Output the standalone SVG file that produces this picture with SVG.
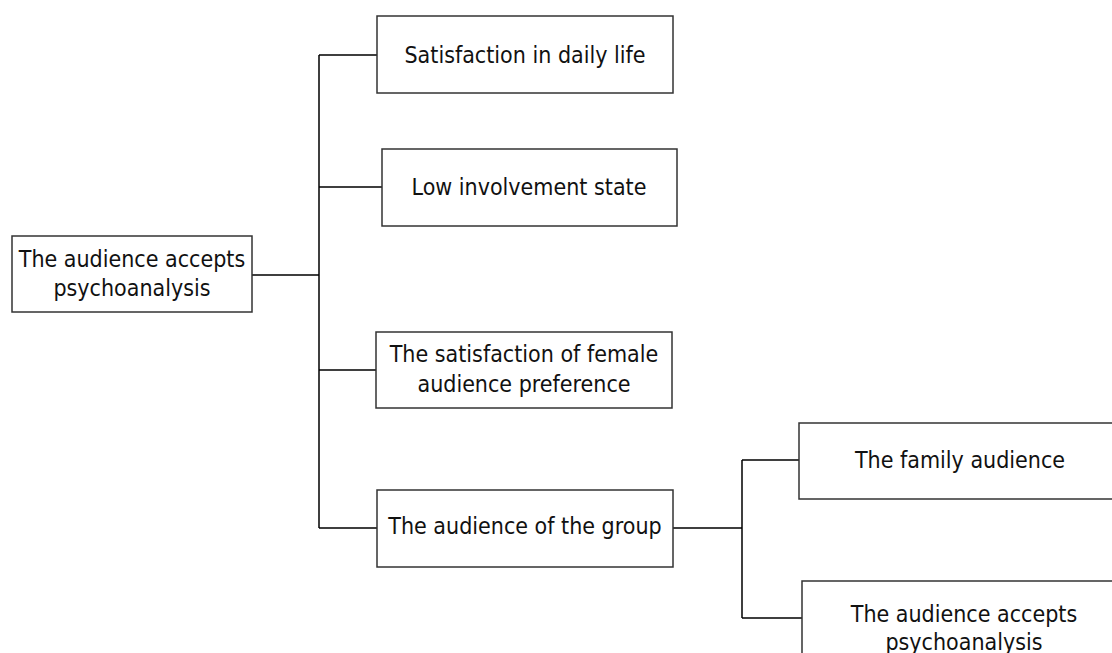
<svg xmlns="http://www.w3.org/2000/svg" width="1112" height="653" viewBox="0 0 1112 653">
<style>
.box{fill:#fff;stroke:#333;stroke-width:1.5}
.ln{fill:none;stroke:#000;stroke-width:1.5}
text{font-family:"DejaVu Sans Condensed","DejaVu Sans",sans-serif;font-stretch:condensed;font-size:23px;fill:#111;text-anchor:middle}
</style>
<rect width="1112" height="653" fill="#fff"/>
<g id="connectors">
<path class="ln" d="M252 275H319M319 55V528M319 55H377M319 187H382M319 370H376M319 528H377M673 528H742M742 460V618M742 460H799M742 618H802"/>
</g>
<g id="root"><rect class="box" x="12" y="236" width="240" height="76"/><text x="132" y="267">The audience accepts</text><text x="132" y="296">psychoanalysis</text></g>
<g id="n1"><rect class="box" x="377" y="16" width="296" height="77"/><text x="525" y="63">Satisfaction in daily life</text></g>
<g id="n2"><rect class="box" x="382" y="149" width="295" height="77"/><text x="529" y="195">Low involvement state</text></g>
<g id="n3"><rect class="box" x="376" y="332" width="296" height="76"/><text x="524" y="362">The satisfaction of female</text><text x="524" y="392">audience preference</text></g>
<g id="n4"><rect class="box" x="377" y="490" width="296" height="77"/><text x="525" y="534">The audience of the group</text></g>
<g id="n5"><rect class="box" x="799" y="423" width="330" height="76"/><text x="960" y="468">The family audience</text></g>
<g id="n6"><rect class="box" x="802" y="581" width="330" height="90"/><text x="964" y="622">The audience accepts</text><text x="964" y="650">psychoanalysis</text></g>
</svg>
